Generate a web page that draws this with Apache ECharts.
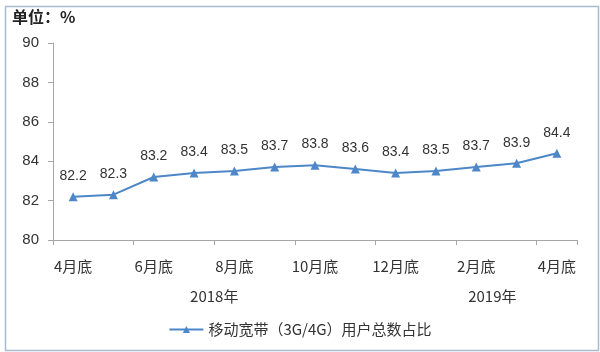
<!DOCTYPE html>
<html>
<head>
<meta charset="utf-8">
<script src="https://cdn.jsdelivr.net/npm/echarts@6/dist/echarts.min.js"></script>
<style>
  html, body { margin: 0; padding: 0; background: #fff; }
  #main { width: 600px; height: 352px; }
</style>
</head>
<body>
<div id="main"></div>
<script>
var months = ['4月底', '5月底', '6月底', '7月底', '8月底', '9月底', '10月底', '11月底', '12月底', '1月底', '2月底', '3月底', '4月底'];
var shareValues = [82.2, 82.3, 83.2, 83.4, 83.5, 83.7, 83.8, 83.6, 83.4, 83.5, 83.7, 83.9, 84.4];
var yearLabels = ['2018年', '2019年'];
// category index range each year label sits under
var yearSpans = [[0, 7], [10, 10.8]];

var lineColor = '#4d87c7';
var textColor = '#333';
var font = 'Noto Sans CJK SC';

var chart = echarts.init(document.getElementById('main'));

chart.setOption({
    backgroundColor: '#fff',
    textStyle: {fontFamily: font},
    grid: {left: 53, right: 23, top: 43, bottom: 112},
    legend: {
        bottom: 10,
        left: 'center',
        itemWidth: 34,
        itemHeight: 9,
        itemGap: 4,
        textStyle: {fontSize: 15, color: textColor, fontFamily: font},
        data: ['移动宽带（3G/4G）用户总数占比']
    },
    xAxis: {
        type: 'category',
        data: months,
        boundaryGap: true,
        axisLine: {lineStyle: {color: '#a6a6a6'}},
        axisTick: {show: true, length: 5, lineStyle: {color: '#a6a6a6'}},
        axisLabel: {interval: 1, margin: 19, fontSize: 15, color: textColor}
    },
    yAxis: {
        type: 'value',
        min: 80,
        max: 90,
        interval: 2,
        axisLine: {show: true, lineStyle: {color: '#a6a6a6'}},
        axisTick: {show: true, length: 5, lineStyle: {color: '#a6a6a6'}},
        axisLabel: {fontSize: 15, color: textColor, margin: 14, fontFamily: 'Liberation Sans'},
        splitLine: {show: false}
    },
    series: [{
        name: '移动宽带（3G/4G）用户总数占比',
        type: 'line',
        data: shareValues,
        symbol: 'triangle',
        symbolSize: 9,
        itemStyle: {color: lineColor},
        lineStyle: {color: lineColor, width: 2},
        label: {show: true, position: 'top', distance: 9, fontSize: 14, color: textColor, fontFamily: 'Liberation Sans'}
    }]
});

var graphics = [{
    type: 'rect',
    left: 3, top: 4,
    shape: {width: 593, height: 344},
    style: {fill: 'none', stroke: '#a9bccf', lineWidth: 1.5},
    silent: true
}, {
    type: 'text',
    left: 12, top: 9,
    style: {text: '单位：%', font: 'bold 16px "Noto Sans CJK SC"', fill: '#222'}
}];
yearLabels.forEach(function (label, i) {
    var a = chart.convertToPixel({xAxisIndex: 0}, yearSpans[i][0]);
    var b = chart.convertToPixel({xAxisIndex: 0}, Math.floor(yearSpans[i][1]));
    var extra = (yearSpans[i][1] % 1) * 40.3;
    graphics.push({
        type: 'text',
        x: (a + b + extra) / 2,
        y: 296,
        style: {text: label, font: '15px "Noto Sans CJK SC"', fill: textColor, align: 'center', verticalAlign: 'middle'}
    });
});
chart.setOption({graphic: graphics});
</script>
</body>
</html>
